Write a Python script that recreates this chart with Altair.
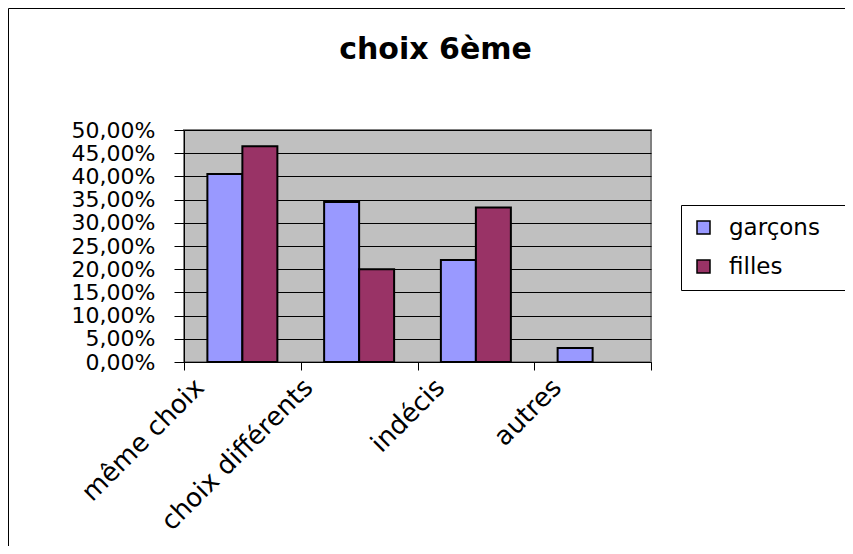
import altair as alt
import pandas as pd

categories = ["même choix", "choix différents", "indécis", "autres"]
series = ["garçons", "filles"]
garcons = [0.405, 0.345, 0.22, 0.03]
filles = [0.465, 0.20, 0.333, 0.0]
y_ticks = [0.0, 0.05, 0.10, 0.15, 0.20, 0.25, 0.30, 0.35, 0.40, 0.45, 0.50]
colors = ["#9999FF", "#993366"]
title_text = "choix 6ème"

rows = []
for c, g, f in zip(categories, garcons, filles):
    rows.append({"cat": c, "serie": series[0], "val": g})
    rows.append({"cat": c, "serie": series[1], "val": f})
df = pd.DataFrame(rows)

FONT = "DejaVu Sans"

label_offset = {
    "condition": [
        {"test": "datum.value == 'choix différents'", "value": -51},
        {"test": "datum.value == 'indécis' || datum.value == 'autres'", "value": -36},
    ],
    "value": -43,
}

bars = alt.Chart(df).transform_filter("datum.val > 0").mark_bar(
    stroke="black", strokeWidth=2
).encode(
    x=alt.X(
        "cat:N",
        sort=categories,
        scale=alt.Scale(paddingInner=0, paddingOuter=0),
        axis=alt.Axis(
            title=None,
            labelAngle=-45,
            labelAlign="right",
            labelBaseline="middle",
            labelOffset=label_offset,
            labelPadding=13,
            tickBand="extent",
            tickSize=8,
            tickColor="black",
            domainColor="black",
            labelFont=FONT,
            labelFontSize=26,
            labelColor="black",
            labelLimit=400,
            grid=False,
        ),
    ),
    xOffset=alt.XOffset(
        "serie:N",
        sort=series,
        scale=alt.Scale(domain=series, paddingInner=0, paddingOuter=0.668),
    ),
    y=alt.Y(
        "val:Q",
        scale=alt.Scale(domain=[0, 0.5], nice=False),
        axis=alt.Axis(
            title=None,
            values=y_ticks,
            labelExpr="replace(format(datum.value, '.2%'), '.', ',')",
            tickSize=10,
            tickColor="black",
            domainColor="black",
            labelFont=FONT,
            labelFontSize=22,
            labelColor="black",
            labelPadding=19,
            labelFlush=False,
            labelOverlap=False,
            grid=True,
            gridColor="black",
            gridOpacity=1,
        ),
    ),
    color=alt.Color(
        "serie:N",
        sort=series,
        scale=alt.Scale(domain=series, range=colors),
        legend=alt.Legend(
            title=None,
            orient="none",
            legendX=497,
            legendY=75,
            strokeColor="black",
            fillColor="white",
            padding=11,
            symbolType="square",
            symbolSize=169,
            symbolStrokeColor="black",
            symbolStrokeWidth=1.5,
            labelFont=FONT,
            labelFontSize=23,
            labelColor="black",
            labelOffset=14,
            rowPadding=15,
            labelExpr="datum.label + '\u00a0\u00a0\u200b'",
        ),
    ),
)

border = alt.Chart(alt.Data(values=[{}])).mark_rule(color="black", strokeWidth=1)
top_line = border.encode(x=alt.value(-175.5), x2=alt.value(700), y=alt.value(-121.5))
left_line = border.encode(x=alt.value(-175.5), y=alt.value(-121.5), y2=alt.value(430))

chart = alt.layer(bars, top_line, left_line).properties(
    width=467,
    height=232,
    padding={"left": 176, "top": 122, "right": 194, "bottom": 184},
    autosize=alt.AutoSizeParams(type="none"),
    title=alt.TitleParams(
        text=title_text,
        font=FONT,
        fontSize=30,
        fontWeight="bold",
        color="black",
        anchor="middle",
        dx=18,
        offset=-57,
    ),
).configure_view(fill="#C0C0C0", stroke="#808080", strokeWidth=2)

chart.save("out.html", embed_options={"renderer": "svg", "actions": False})
